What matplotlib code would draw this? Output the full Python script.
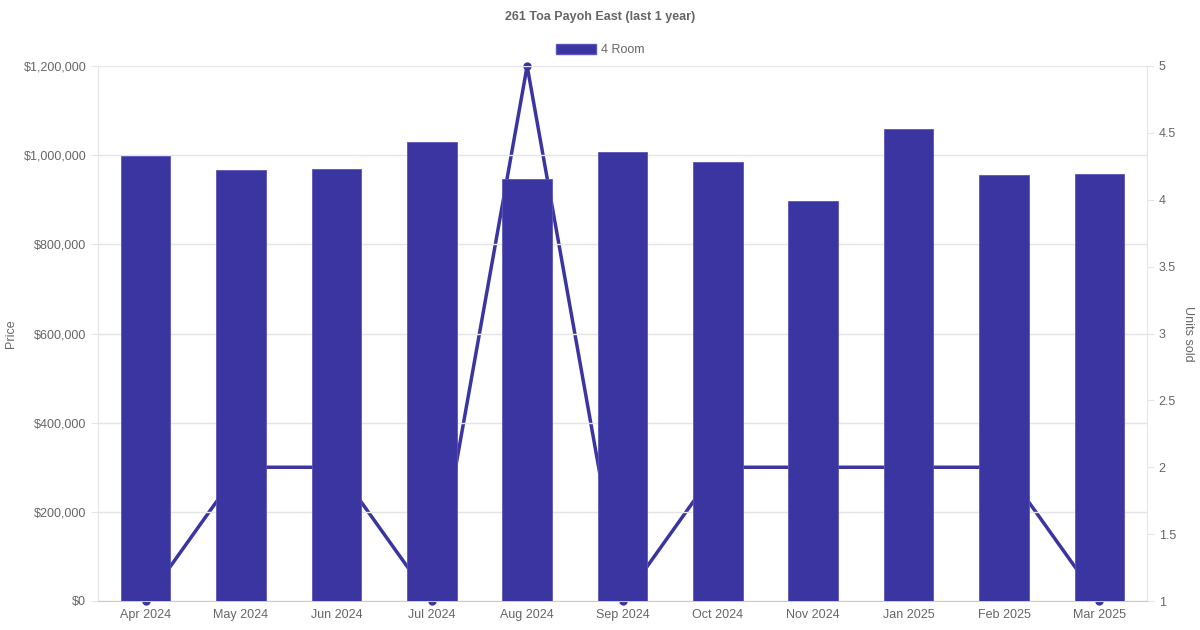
import matplotlib
matplotlib.use("Agg")
import matplotlib.pyplot as plt
from matplotlib.ticker import FuncFormatter, MultipleLocator
from matplotlib.patches import Patch

plt.rcParams['font.family'] = ['Liberation Sans', 'DejaVu Sans']

months = ['Apr 2024', 'May 2024', 'Jun 2024', 'Jul 2024', 'Aug 2024', 'Sep 2024',
          'Oct 2024', 'Nov 2024', 'Jan 2025', 'Feb 2025', 'Mar 2025']
prices = [998000, 967000, 969000, 1030000, 947000, 1007000,
          985000, 897000, 1059000, 956000, 958000]
units = [1, 2, 2, 1, 5, 1, 2, 2, 2, 2, 1]

color = '#3a35a0'
text_color = '#666666'
grid_color = '#e5e5e5'

fig = plt.figure(figsize=(12, 6.3), dpi=100)
ax = fig.add_axes([98/1200, 29/630, 1049/1200, 535/630])
ax2 = ax.twinx()

# line behind the bars
ax.set_zorder(2)
ax2.set_zorder(1)
ax.patch.set_visible(False)

x = range(len(months))
ax.bar(x, prices, width=0.52, color=color, edgecolor='#5a55b8', linewidth=0.6, zorder=3)
ax2.plot(x, units, color=color, linewidth=2.5, marker='o', markersize=5, zorder=2,
         clip_on=False)

ax.set_xlim(-0.5, len(months) - 0.5)
ax.set_ylim(0, 1200000)
ax2.set_ylim(1, 5)

ax.yaxis.set_major_locator(MultipleLocator(200000))
ax.yaxis.set_major_formatter(FuncFormatter(lambda v, p: '${:,.0f}'.format(v)))
ax2.yaxis.set_major_locator(MultipleLocator(0.5))
ax2.yaxis.set_major_formatter(FuncFormatter(lambda v, p: '{:g}'.format(v)))

ax.set_xticks(list(x))
ax.set_xticklabels(months)
ax.grid(axis='y', color=grid_color, linewidth=1, zorder=0)
ax.set_axisbelow(True)

for a in (ax, ax2):
    for s in a.spines.values():
        s.set_visible(False)
    a.tick_params(colors=text_color, labelsize=9, length=5, width=0.8)
    a.tick_params(axis='y', color=grid_color)
ax.tick_params(axis='x', length=0, pad=6)
ax2.spines['right'].set_visible(True)
ax2.spines['right'].set_color(grid_color)
ax.spines['left'].set_visible(True)
ax.spines['left'].set_color(grid_color)
ax.spines['bottom'].set_visible(True)
ax.spines['bottom'].set_color('#cccccc')

ax.set_ylabel('Price', color=text_color, fontsize=9, va='center')
ax.yaxis.set_label_coords(-87/1049, 0.5)
ax2.set_ylabel('Units sold', color=text_color, fontsize=9, rotation=270, va='center')
ax2.yaxis.set_label_coords(1 + 41/1049, 0.5)

fig.text(0.5, 1 - 17/630, '261 Toa Payoh East (last 1 year)', ha='center', va='center',
         fontsize=9, fontweight='bold', color=text_color)

fig.legend(handles=[Patch(facecolor=color, edgecolor='#5a55b8', label='4 Room')],
           loc='center', bbox_to_anchor=(0.5, 1 - 50/630), frameon=False,
           handlelength=3.2, handleheight=0.8, fontsize=9, labelcolor=text_color,
           handletextpad=0.4, borderaxespad=0, borderpad=0)

fig.savefig('out.png', dpi=100)
